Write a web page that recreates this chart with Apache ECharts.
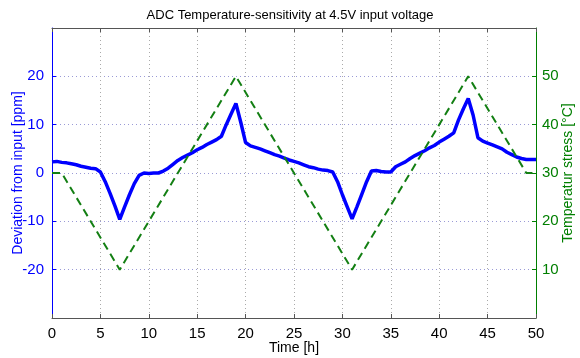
<!DOCTYPE html>
<html>
<head>
<meta charset="utf-8">
<script src="https://cdn.jsdelivr.net/npm/echarts@6/dist/echarts.min.js"></script>
<style>
  html, body { margin: 0; padding: 0; background: #fff; }
  #container { width: 580px; height: 358px; }
</style>
</head>
<body>
<div id="container"></div>
<script>
// deviation readings, one every half hour from 0 to 50 h
var devTimes = [];
for (var i = 0; i <= 100; i++) devTimes.push(i * 0.5);
var deviation = [
  2.3, 2.4, 2.2, 2.1, 1.9, 1.7, 1.4, 1.2, 1.0, 0.9,
  0.2, -1.8, -4.2, -6.8, -9.6, -7.0, -4.5, -2.2, -0.5, 0.0,
  -0.1, 0.0, 0.0, 0.4, 1.0, 1.8, 2.6, 3.2, 3.7, 4.2,
  4.8, 5.3, 5.9, 6.4, 6.9, 7.6, 10.0, 12.2, 14.4, 10.5,
  6.3, 5.6, 5.3, 5.0, 4.6, 4.2, 3.8, 3.5, 3.1, 2.7,
  2.4, 2.1, 1.7, 1.3, 1.1, 0.8, 0.6, 0.5, 0.2, -1.8,
  -4.5, -7.0, -9.5, -7.0, -4.4, -1.8, 0.4, 0.5, 0.3, 0.2,
  0.2, 1.3, 1.8, 2.3, 3.0, 3.6, 4.1, 4.6, 5.2, 5.7,
  6.4, 7.0, 7.6, 8.3, 11.0, 13.3, 15.4, 12.0, 7.3, 6.6,
  6.2, 5.8, 5.4, 5.0, 4.3, 3.8, 3.3, 3.0, 2.8, 2.8,
  2.8
];

// temperature profile corners
var tempTimes = [0, 1, 7, 19, 31, 43, 49, 50];
var temperature = [30, 30, 10, 50, 10, 50, 30, 30];

var devData = devTimes.map(function (t, i) { return [t, deviation[i]]; });
var tempData = tempTimes.map(function (t, i) { return [t, temperature[i]]; });

var font = 'Liberation Sans, Arial, sans-serif';
var blue = '#0000ff';
var green = '#007f00';

var dom = document.getElementById('container');
var myChart = echarts.init(dom, null, { renderer: 'canvas' });

var option = {
  animation: false,
  backgroundColor: '#fff',
  title: {
    text: 'ADC Temperature-sensitivity at 4.5V input voltage',
    left: 'center',
    top: 4,
    textStyle: { fontFamily: font, fontSize: 13, fontWeight: 'normal', color: '#000' }
  },
  grid: { left: 52, right: 44, top: 28, bottom: 40, outerBoundsMode: 'none', containLabel: false },
  xAxis: [
    {
      type: 'value',
      min: 0,
      max: 50,
      interval: 5,
      name: 'Time [h]',
      nameLocation: 'middle',
      nameGap: 23,
      nameMoveOverlap: false,
      nameTextStyle: { fontFamily: font, fontSize: 14, color: '#000' },
      axisLine: { onZero: false, lineStyle: { color: '#555', width: 1 } },
      axisTick: { inside: true, length: 4, lineStyle: { color: '#555' } },
      axisLabel: { fontFamily: font, fontSize: 15, color: '#000', margin: 8 },
      splitLine: { show: true, lineStyle: { color: '#aaa', type: [1, 3], width: 1 } }
    },
    {
      type: 'value',
      position: 'top',
      min: 0,
      max: 50,
      interval: 5,
      axisLine: { show: true, onZero: false, lineStyle: { color: '#555', width: 1 } },
      axisTick: { inside: true, length: 4, lineStyle: { color: '#555' } },
      axisLabel: { show: false },
      splitLine: { show: false }
    }
  ],
  yAxis: [
    {
      type: 'value',
      min: -30,
      max: 30,
      interval: 10,
      name: 'Deviation from input [ppm]',
      nameLocation: 'middle',
      nameGap: 27,
      nameMoveOverlap: false,
      nameTextStyle: { fontFamily: font, fontSize: 14, color: blue },
      axisLine: { show: true, onZero: false, lineStyle: { color: blue, width: 1 } },
      axisTick: { show: true, inside: true, length: 4, lineStyle: { color: blue } },
      axisLabel: { fontFamily: font, fontSize: 15, color: blue, margin: 8, showMinLabel: false, showMaxLabel: false },
      splitLine: { show: true, lineStyle: { color: '#9a9ad6', type: [1, 3], width: 1 } }
    },
    {
      type: 'value',
      min: 0,
      max: 60,
      interval: 10,
      position: 'right',
      name: 'Temperatur stress [°C]',
      nameLocation: 'middle',
      nameGap: 25,
      nameMoveOverlap: false,
      nameTextStyle: { fontFamily: font, fontSize: 14, color: green },
      axisLine: { show: true, onZero: false, lineStyle: { color: green, width: 1 } },
      axisTick: { show: true, inside: true, length: 4, lineStyle: { color: green } },
      axisLabel: { fontFamily: font, fontSize: 15, color: green, margin: 6, showMinLabel: false, showMaxLabel: false },
      splitLine: { show: false }
    }
  ],
  series: [
    {
      name: 'Deviation',
      type: 'line',
      xAxisIndex: 0,
      yAxisIndex: 0,
      data: devData,
      showSymbol: false,
      lineStyle: { color: blue, width: 3.5 },
      z: 3
    },
    {
      name: 'Temperature',
      type: 'line',
      xAxisIndex: 0,
      yAxisIndex: 1,
      data: tempData,
      showSymbol: false,
      lineStyle: { color: '#137f13', width: 2, type: [8, 5] },
      z: 4
    }
  ]
};

if (option && typeof option === 'object') {
  myChart.setOption(option);
}

window.addEventListener('resize', myChart.resize);
</script>
</body>
</html>
